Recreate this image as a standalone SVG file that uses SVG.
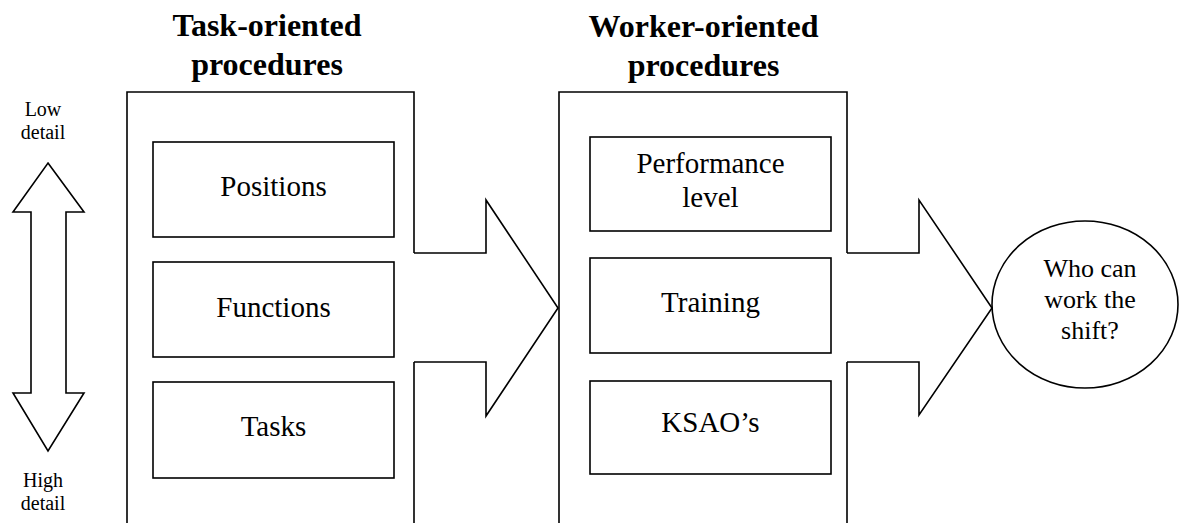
<svg xmlns="http://www.w3.org/2000/svg" width="1180" height="523" viewBox="0 0 1180 523">
  <style>
    .line { fill: none; stroke: #000; stroke-width: 1.6; stroke-linejoin: miter; }
    .box { fill: #fff; stroke: #000; stroke-width: 1.6; }
    .title { font-family: "Liberation Serif", "Times New Roman", serif; font-weight: bold; font-size: 32px; text-anchor: middle; fill: #000; }
    .label { font-family: "Liberation Serif", "Times New Roman", serif; font-size: 29px; text-anchor: middle; fill: #000; }
    .small { font-family: "Liberation Serif", "Times New Roman", serif; font-size: 20px; text-anchor: middle; fill: #000; }
    .oval { font-family: "Liberation Serif", "Times New Roman", serif; font-size: 26px; text-anchor: middle; fill: #000; }
  </style>
  <rect width="1180" height="523" fill="#fff"/>

  <!-- detail scale on the left -->
  <g id="detail-scale">
    <text class="small" x="43" y="116">Low</text>
    <text class="small" x="43" y="139">detail</text>
    <polygon class="line" points="48,163 84,212 66,212 66,393 84,393 48,451 13,393 31,393 31,212 13,212"/>
    <text class="small" x="43" y="487">High</text>
    <text class="small" x="43" y="510">detail</text>
  </g>

  <!-- task-oriented column -->
  <g id="task-oriented">
    <text class="title" x="267" y="36">Task-oriented</text>
    <text class="title" x="267" y="75">procedures</text>
    <path class="line" d="M127,530 V92 H414 V253 M414,362 V530"/>
  </g>
  <g id="positions">
    <rect class="box" x="153" y="142" width="241" height="95"/>
    <text class="label" x="273.5" y="196">Positions</text>
  </g>
  <g id="functions">
    <rect class="box" x="153" y="262" width="241" height="95"/>
    <text class="label" x="273.5" y="317">Functions</text>
  </g>
  <g id="tasks">
    <rect class="box" x="153" y="382" width="241" height="96"/>
    <text class="label" x="273.5" y="436">Tasks</text>
  </g>

  <!-- worker-oriented column -->
  <g id="worker-oriented">
    <text class="title" x="703.5" y="37">Worker-oriented</text>
    <text class="title" x="703.5" y="76">procedures</text>
    <path class="line" d="M559,530 V92 H847 V253 M847,362 V530"/>
  </g>
  <g id="performance-level">
    <rect class="box" x="590" y="137" width="241" height="94"/>
    <text class="label" x="710.5" y="173">Performance</text>
    <text class="label" x="710.5" y="207">level</text>
  </g>
  <g id="training">
    <rect class="box" x="590" y="258" width="241" height="95"/>
    <text class="label" x="710.5" y="312">Training</text>
  </g>
  <g id="ksaos">
    <rect class="box" x="590" y="381" width="241" height="93"/>
    <text class="label" x="710.5" y="432">KSAO’s</text>
  </g>

  <!-- outcome -->
  <g id="who-can-work">
    <ellipse class="box" cx="1085" cy="304.5" rx="93" ry="83.5"/>
    <text class="oval" x="1090" y="277">Who can</text>
    <text class="oval" x="1090" y="308">work the</text>
    <text class="oval" x="1090" y="339">shift?</text>
  </g>

  <!-- block arrows between the columns -->
  <g id="connectors">
    <polyline class="line" points="414,253 486,253 486,200 558,308 486,416 486,362 414,362"/>
    <polyline class="line" points="847,253 919,253 919,200 992,308 919,415 919,362 847,362"/>
  </g>
</svg>
